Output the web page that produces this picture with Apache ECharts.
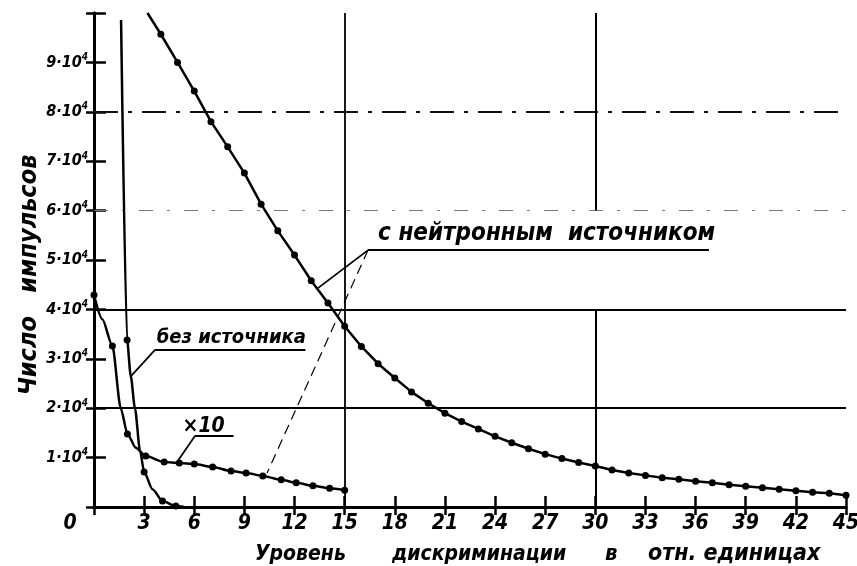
<!DOCTYPE html>
<html><head><meta charset="utf-8">
<script src="https://cdn.jsdelivr.net/npm/echarts@6/dist/echarts.min.js"></script>
<style>html,body{margin:0;padding:0;background:#fff}#c{width:857px;height:566px}</style>
</head><body><div id="c"></div>
<script>
// ---- data ----
const xTicks = [0,3,6,9,12,15,18,21,24,27,30,33,36,39,42,45];
const yTickValues = [10000,20000,30000,40000,50000,60000,70000,80000,90000];

// curve "с нейтронным источником"
const neutronX = [3.2,4,5,6,7,8,9,10,11,12,13,14,15,16,17,18,19,20,21,22,23,24,25,26,27,28,29,30,31,32,33,34,35,36,37,38,39,40,41,42,43,44,45];
const neutronY = [100000,95700,90000,84200,78000,72900,67600,61300,55900,51000,45800,41300,36600,32500,29000,26100,23300,21000,19000,17300,15800,14300,13000,11800,10700,9800,9000,8300,7500,6900,6400,5900,5600,5200,4900,4500,4200,3900,3600,3300,3000,2800,2400];
const neutronMarked = neutronX.map((x,i)=> i>0);

// curve "x10"
const x10X = [0,0.5,1.1,1.6,2,2.5,3.1,4.2,5.1,6,7.1,8.2,9.1,10.1,11.2,12.1,13.1,14.1,15];
const x10Y = [42900,38000,32600,20000,14800,12000,10300,9100,8900,8700,8100,7300,6900,6300,5500,4900,4300,3800,3400];
const x10Marked = [true,false,true,false,true,false,true,true,true,true,true,true,true,true,true,true,true,true,true];

// curve "без источника"
const bgX = [1.62,1.98,2.2,2.45,2.75,3.0,3.5,4.1,4.9,5.4];
const bgY = [98600,33800,26500,20000,11500,7100,3600,1200,200,0];
const bgMarked = [false,true,false,false,false,true,false,true,true,false];

// axis title words
const xTitleWords = ['Уровень','дискриминации','в','отн. единицах'];
const yTitle = 'Число   импульсов';

// annotation anchors (data space)
const annNeutron = {text:'с нейтронным  источником', at:[17.0,55300], line:[16.4,52000], tip1:[13.4,44300], tip2:[10.36,6900], ulEnd:36.8};
const annBg = {text:'без источника', at:[3.75,34300], line:[3.65,31800], tip:[2.16,26300], ulEnd:12.65};
const annX10 = {text:'×10', at:[5.3,16200], line:[6.05,14400], tip:[4.97,9100], ulEnd:8.35};

const FONT = "'Liberation Sans Narrow','DejaVu Sans Condensed','Noto Sans',sans-serif";

function pts(xs, ys, marks){
  return xs.map((x,i)=>{
    const d = {value:[x, ys[i]]};
    if (marks && !marks[i]) d.symbol = 'none';
    return d;
  });
}
function seg(a,b,style){ return [{coord:a, lineStyle:style},{coord:b}]; }

const lineBase = {type:'line', smooth:false, symbol:'circle', symbolSize:7,
  lineStyle:{color:'#000', width:2.5}, itemStyle:{color:'#000'}, silent:true, z:5, animation:false};

const tStyle = (w,fs)=>({width:w, align:'left', fontFamily:FONT, fontSize:fs, fontStyle:'italic', fontWeight:'bold', color:'#000'});

const chart = echarts.init(document.getElementById('c'));
const option = {
  animation:false,
  backgroundColor:'#fff',
  grid:{left:94, right:11, top:13, bottom:59, containLabel:false, outerBoundsMode:'none'},
  xAxis:[{
    type:'value', min:0, max:45, interval:3, position:'bottom',
    axisLine:{show:true, lineStyle:{color:'#000', width:3}},
    axisTick:{show:true, inside:true, length:11, lineStyle:{color:'#000', width:2.5}},
    axisLabel:{margin:6, color:'#000', fontFamily:FONT, fontSize:21, fontStyle:'italic', fontWeight:'bold',
      formatter:v=> v===0 ? '{z|0}' : String(v),
      rich:{z:{fontFamily:FONT, fontSize:21, fontStyle:'italic', fontWeight:'bold', color:'#000', padding:[0,48,0,0]}}},
    splitLine:{show:false},
    name:'{a|'+xTitleWords[0]+'}{b|'+xTitleWords[1]+'}{c|'+xTitleWords[2]+'}{d|'+xTitleWords[3]+'}',
    nameLocation:'middle', nameGap:36, nameMoveOverlap:false,
    nameTextStyle:{color:'#000', fontFamily:FONT, fontSize:21, fontStyle:'italic', fontWeight:'bold', padding:[0,0,0,143],
      rich:{a:tStyle(137,21), b:tStyle(213,21), c:tStyle(43,22), d:tStyle(180,23)}}
  },{
    type:'value', min:0, max:45, interval:3, position:'top',
    axisLine:{show:false}, axisLabel:{show:false}, splitLine:{show:false},
    axisTick:{show:true, inside:true, length:8, lineStyle:{color:'#000', width:2.5}}
  }],
  yAxis:[{
    type:'value', min:0, max:100000, interval:10000, position:'left',
    axisLine:{show:true, lineStyle:{color:'#000', width:3}},
    axisTick:{show:true, inside:true, length:12, lineStyle:{color:'#000', width:2.5}},
    axisLabel:{margin:6, color:'#000', fontFamily:FONT, fontSize:16, fontStyle:'italic', fontWeight:'bold',
      formatter:v=> yTickValues.includes(v) ? (v/10000)+'·10{s|4}' : '',
      rich:{s:{fontFamily:FONT, fontSize:10, fontStyle:'italic', fontWeight:'bold', color:'#000', verticalAlign:'top', padding:[0,0,10,0]}}},
    splitLine:{show:false},
    name:yTitle, nameLocation:'middle', nameGap:52, nameRotate:90, nameMoveOverlap:false,
    nameTextStyle:{color:'#000', fontFamily:FONT, fontSize:25, fontStyle:'italic', fontWeight:'bold', padding:[0,30,0,0]}
  },{
    type:'value', min:0, max:100000, interval:10000, position:'right',
    axisLine:{show:true, lineStyle:{color:'#000', width:3}},
    axisTick:{show:true, inside:true, length:8, lineStyle:{color:'#000', width:2.5}},
    axisLabel:{show:false}, splitLine:{show:false}
  }],
  series:[
    {type:'line', data:[], silent:true, z:2, animation:false,
      markLine:{silent:true, symbol:'none', label:{show:false}, animation:false,
        lineStyle:{color:'#000', width:2, type:'solid'},
        data:[
          seg([0,20000],[45,20000],{color:'#000',width:2.2,type:'solid'}),
          seg([0,40000],[45,40000],{color:'#000',width:2,type:'solid'}),
          seg([0,80000],[45,80000],{color:'#111',width:1.8,type:[24,10,4,10]}),
          seg([0,60000],[45,60000],{color:'#777',width:1.1,type:[14,14,3,14]}),
          seg([15,0],[15,100000],{color:'#000',width:1.8,type:'solid'}),
          seg([30,0],[30,40000],{color:'#000',width:2,type:'solid'}),
          seg([30,60000],[30,100000],{color:'#000',width:2,type:'solid'})
        ]}},
    {type:'line', data:[], silent:true, z:6, animation:false,
      markLine:{silent:true, label:{show:false}, animation:false, symbol:['none','none'],
        lineStyle:{color:'#000', width:1.8, type:'solid'},
        data:[
          seg([annNeutron.line[0],annNeutron.line[1]],[annNeutron.ulEnd,annNeutron.line[1]],{color:'#000',width:1.8}),
          seg([annBg.line[0],annBg.line[1]],[annBg.ulEnd,annBg.line[1]],{color:'#000',width:1.8}),
          seg([annX10.line[0],annX10.line[1]],[annX10.ulEnd,annX10.line[1]],{color:'#000',width:1.8})
        ]}},
    {type:'line', data:[], silent:true, z:6, animation:false,
      markLine:{silent:true, label:{show:false}, animation:false, symbol:['none','arrow'], symbolSize:[0,13],
        lineStyle:{color:'#000', width:1.8, type:'solid'},
        data:[
          seg(annNeutron.line, annNeutron.tip1, {color:'#000',width:1.8}),
          seg(annNeutron.line, annNeutron.tip2, {color:'#000',width:1.2,type:[10,6]}),
          seg(annBg.line, annBg.tip, {color:'#000',width:1.8}),
          seg(annX10.line, annX10.tip, {color:'#000',width:1.8})
        ]}},
    Object.assign({}, lineBase, {name:'с нейтронным источником', data:pts(neutronX, neutronY, neutronMarked)}),
    Object.assign({}, lineBase, {name:'x10', smooth:0.25, smoothMonotone:'x', data:pts(x10X, x10Y, x10Marked)}),
    Object.assign({}, lineBase, {name:'без источника', smooth:0.25, smoothMonotone:'x', data:pts(bgX, bgY, bgMarked)})
  ]
};
chart.setOption(option);

function label(a, size){
  const p = chart.convertToPixel({gridIndex:0}, a.at);
  return {type:'text', x:p[0], y:p[1], z:20, silent:true,
    style:{text:a.text, fill:'#000', font:'italic bold '+size+'px '+FONT, textAlign:'left', textVerticalAlign:'middle'}};
}
chart.setOption({graphic:[label(annNeutron,24), label(annBg,20), label(annX10,21)]});
</script></body></html>
